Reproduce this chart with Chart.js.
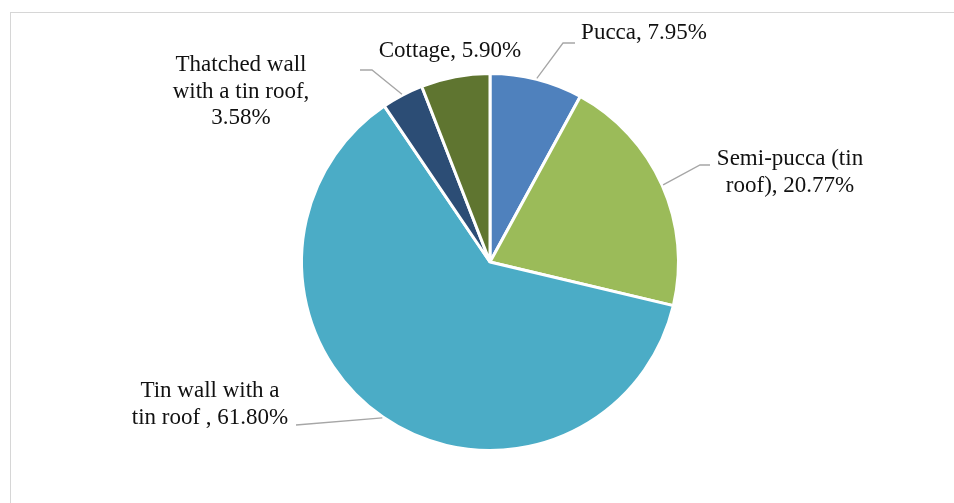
<!DOCTYPE html>
<html>
<head>
<meta charset="utf-8">
<script src="https://cdn.jsdelivr.net/npm/chart.js@4.4.1/dist/chart.umd.min.js"></script>
<style>
  html, body { margin: 0; padding: 0; background: #fff; overflow: hidden; }
  #frame {
    position: absolute; left: 10px; top: 12px;
    width: 1100px; height: 700px;
    border: 1px solid #d6d6d6;
  }
  #housing { position: absolute; left: 0; top: 0; }
</style>
</head>
<body>
<div id="frame"></div>
<canvas id="housing" width="954" height="503"></canvas>
<script>
// house types and their share (%)
const categories = ['Pucca', 'Semi-pucca (tin roof)', 'Tin wall with a tin roof ', 'Thatched wall with a tin roof', 'Cottage'];
const shares = [7.95, 20.77, 61.80, 3.58, 5.90];
const sliceColors = ['#4f81bd', '#9bbb59', '#4bacc6', '#2c4d75', '#5f7530'];

// how each label is broken into lines
const labelLines = [
    ['Pucca, 7.95%'],
    ['Semi-pucca (tin', 'roof), 20.77%'],
    ['Tin wall with a', 'tin roof , 61.80%'],
    ['Thatched wall', 'with a tin roof,', '3.58%'],
    ['Cottage, 5.90%']
];

// label placement: text centre, first line y, leader elbow and end (null = no leader)
const labelPlace = [
    {x: 644, y: 33,  elbow: [563, 43],  end: [575, 43]},
    {x: 790, y: 159, elbow: [700, 165], end: [710, 165]},
    {x: 210, y: 391, elbow: [296, 425], end: [296, 425]},
    {x: 241, y: 65,  elbow: [372, 70],  end: [360, 70]},
    {x: 450, y: 51,  elbow: null,       end: null}
];

const pieLabels = {
    id: 'pieLabels',
    afterDraw(chart) {
        const ctx = chart.ctx;
        const arcs = chart.getDatasetMeta(0).data;
        ctx.save();
        arcs.forEach((arc, i) => {
            const p = labelPlace[i];
            if (p.elbow) {
                const mid = (arc.startAngle + arc.endAngle) / 2;
                const r = arc.outerRadius + 1;
                ctx.beginPath();
                ctx.moveTo(arc.x + Math.cos(mid) * r, arc.y + Math.sin(mid) * r);
                ctx.lineTo(p.elbow[0], p.elbow[1]);
                ctx.lineTo(p.end[0], p.end[1]);
                ctx.strokeStyle = '#a6a6a6';
                ctx.lineWidth = 1.3;
                ctx.stroke();
            }
            ctx.fillStyle = '#111';
            ctx.font = '23px "Liberation Serif", "Times New Roman", serif';
            ctx.textAlign = 'center';
            ctx.textBaseline = 'middle';
            labelLines[i].forEach((t, k) => ctx.fillText(t, p.x, p.y + k * 26.5));
        });
        ctx.restore();
    }
};

new Chart(document.getElementById('housing').getContext('2d'), {
    type: 'pie',
    data: {
        labels: categories,
        datasets: [{
            data: shares,
            backgroundColor: sliceColors,
            borderColor: '#ffffff',
            borderWidth: 3
        }]
    },
    options: {
        responsive: false,
        animation: false,
        layout: { padding: { top: 72, bottom: 51, left: 26, right: 0 } },
        plugins: {
            legend: { display: false },
            tooltip: { enabled: false }
        }
    },
    plugins: [pieLabels]
});
</script>
</body>
</html>
